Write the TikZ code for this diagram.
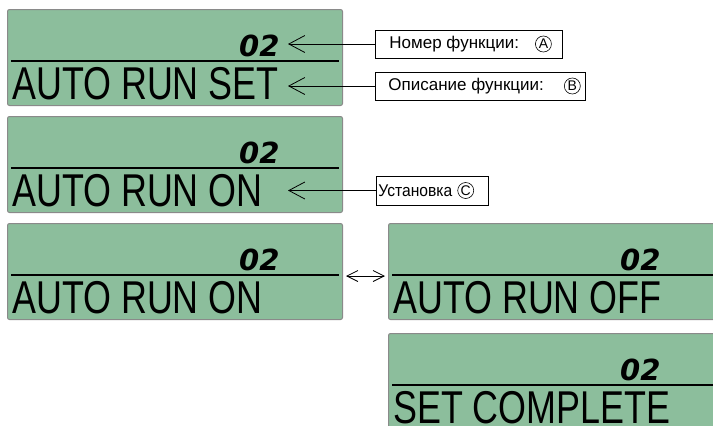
\documentclass[tikz,border=0pt]{standalone}
\usepackage{fontspec}
\setmainfont{Liberation Sans}
\newfontfamily\dejavu{DejaVu Sans}
\usetikzlibrary{arrows.meta}
\definecolor{lcd}{RGB}{140,190,156}
\definecolor{lcdedge}{RGB}{138,138,138}
\tikzset{
  panel/.style={draw=lcdedge, fill=lcd, line width=1pt, rounded corners=2pt,
    minimum width=335pt, minimum height=96pt, inner sep=0pt, anchor=north west},
  divider/.style={line width=2pt},
  bigtext/.style={anchor=base west, inner sep=0pt, font=\fontsize{46}{46}\selectfont},
  numtext/.style={anchor=base west, inner sep=0pt, font=\dejavu\bfseries\itshape\fontsize{29}{29}\selectfont},
  callout/.style={draw, line width=0.8pt, inner xsep=0pt, inner ysep=0pt, minimum height=28pt,
    anchor=west, font=\fontsize{17}{17}\selectfont},
  circ/.style={draw, circle, line width=0.6pt, inner sep=0pt, minimum size=16pt,
    font=\fontsize{14}{14}\selectfont},
  pointer/.style={line width=0.8pt, -{Straight Barb[length=16pt,width=17pt]}},
  swaparrow/.style={line width=0.8pt, {Straight Barb[length=11pt,width=11pt]}-{Straight Barb[length=11pt,width=11pt]}},
}
\begin{document}
\begin{tikzpicture}[x=1pt, y=-1pt]
\useasboundingbox (0,0) rectangle (713,426);
\clip (0,0) rectangle (713,426);
\foreach \n/\x/\y/\t in {p1/7/9/AUTO RUN SET, p2/7/116/AUTO RUN ON, p3/7/223/AUTO RUN ON, p4/388/223/AUTO RUN OFF, p5/388/333/SET COMPLETE}{
  \node[panel] (\n) at (\x,\y) {};
  \draw[divider] (\x+4,\y+52) -- (\x+332,\y+52);
  \node[numtext] (\n num) at (\x+232,\y+47) {02};
  \node[bigtext] (\n txt) at (\x+5,\y+90) {\scalebox{0.78}[1]{\t}};
}
\node[callout] (ca) at (375,44) {\kern14pt Номер функции:\kern43pt};
\node[callout] (cb) at (375,86) {\kern13pt Описание функции:\kern41pt};
\node[callout, minimum height=29pt] (cc) at (376,190.5) {\kern2pt\scalebox{0.92}[1]{Установка}\kern36pt};
\node[circ] (la) at ([xshift=-19pt]ca.east) {A};
\node[circ] (lb) at ([xshift=-13pt]cb.east) {B};
\node[circ] (lc) at ([xshift=-23pt]cc.east) {C};
\coordinate (ta) at (288,44);
\coordinate (tb) at (288,86);
\coordinate (tc) at (288,190.5);
\draw[pointer] (ca.west) -- (ta);
\draw[pointer] (cb.west) -- (tb);
\draw[pointer] (cc.west) -- (tc);
\coordinate (sl) at (346,276);
\coordinate (sr) at (385,276);
\draw[swaparrow] (sl) -- (sr);
\end{tikzpicture}
\end{document}
